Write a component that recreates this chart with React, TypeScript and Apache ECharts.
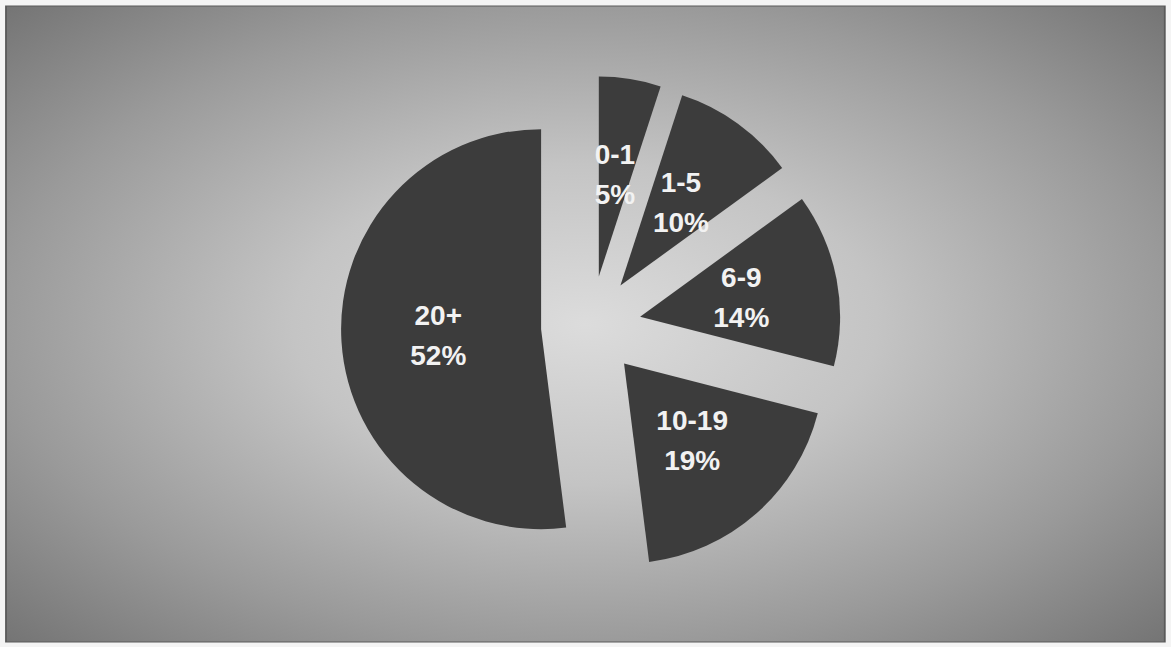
import React, { useEffect, useRef } from "react";
import * as echarts from "echarts";

const categories = ["0-1", "1-5", "6-9", "10-19", "20+"];
const percents = [5, 10, 14, 19, 52];

export default function App() {
  const ref = useRef<HTMLDivElement>(null);
  useEffect(() => {
    if (!ref.current) return;
    const chart = echarts.init(ref.current, undefined, { renderer: "svg" });
    const W = 1159;
    const H = 636;
    const S = 636;
    chart.setOption({
      animation: false,
      backgroundColor: "#f4f4f4",
      graphic: [
        {
          type: "rect",
          x: 6,
          y: 6,
          scaleX: W / S,
          scaleY: H / S,
          shape: { x: 0, y: 0, width: S, height: S },
          style: {
            fill: new echarts.graphic.RadialGradient(0.5, 0.5, 0.72, [
              { offset: 0, color: "#dcdcdc" },
              { offset: 0.35, color: "#c4c4c4" },
              { offset: 0.7, color: "#9a9a9a" },
              { offset: 1, color: "#727272" },
            ]),
            stroke: "#5a5a5a",
            lineWidth: 1,
          },
          z: -10,
          silent: true,
        },
      ],
      series: [
        {
          type: "pie",
          center: [591, 326],
          radius: 200,
          startAngle: 90,
          clockwise: true,
          selectedMode: "multiple",
          selectedOffset: 50,
          avoidLabelOverlap: false,
          minShowLabelAngle: 0,
          labelLayout: { hideOverlap: false },
          itemStyle: { color: "#3c3c3c", borderWidth: 0 },
          emphasis: { disabled: true },
          select: { itemStyle: { color: "#3c3c3c", borderWidth: 0 } },
          label: {
            show: true,
            position: "inside",
            formatter: "{b}\n{c}%",
            color: "#f2f2f2",
            fontFamily: "'Liberation Sans Narrow', 'Arial Narrow', sans-serif",
            fontWeight: "bold",
            fontSize: 28,
            lineHeight: 40,
          },
          labelLine: { show: false },
          data: categories.map((name, i) => ({
            name,
            value: percents[i],
            selected: true,
          })),
        },
      ],
    });
    return () => chart.dispose();
  }, []);
  return (
    <div
      ref={ref}
      style={{ position: "absolute", left: 0, top: 0, width: 1171, height: 647 }}
    />
  );
}
